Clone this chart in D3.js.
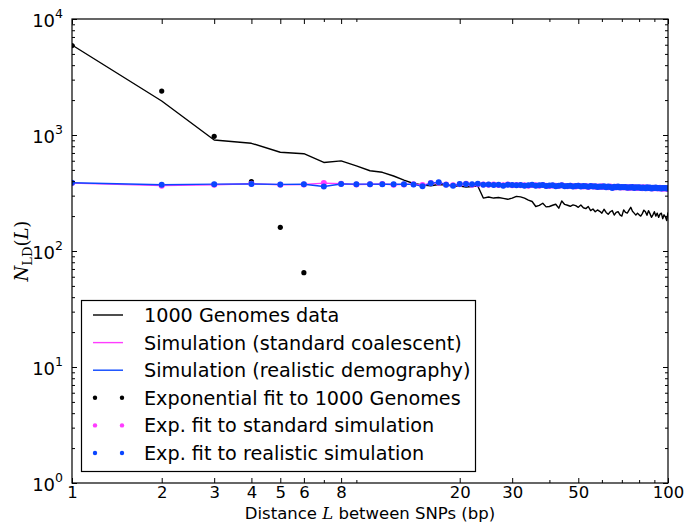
<!DOCTYPE html>
<html><head><meta charset="utf-8">
<script src="https://cdn.jsdelivr.net/npm/d3@7"></script>
<style>
html,body{margin:0;padding:0;background:#fff;}
svg{display:block;font-family:"DejaVu Sans",sans-serif;}
</style></head>
<body>
<svg id="chart" width="686" height="523"></svg>
<script>
// ---------------- data ----------------
const distances = d3.range(1, 101); // L = 1..100 bp

const genomesData = [5970,1963,906,848,710,690,580,598,541,492,
  477,443,409,382,371,365,374,371,363,363,
  356,360,363,286,292,286,289,284,279,286,
  296,293,286,275,267,242,247,258,240,242,
  248,253,234,270,252,248,243,250,246,238,
  249,236,232,242,223,230,218,226,220,212,
  229,215,207,218,223,204,215,218,205,200,
  226,215,212,225,238,220,212,204,212,205,
  200,210,225,218,203,223,210,195,205,218,
  200,212,195,208,212,190,205,197,183,215];

const simStandard = [385,366,372,380,372,374,385,380,374,376,
  378,373,375,376,370,385,388,375,368,376,
  380,373,377,375,372,374,370,369,374,368,
  371,368,369,366,370,368,365,371,366,364,
  367,365,363,369,364,361,365,362,360,366,
  361,360,364,357,361,362,358,359,356,361,
  357,358,355,360,356,353,358,354,357,352,
  356,352,355,350,357,351,354,351,349,353,
  352,348,355,350,347,352,348,350,345,351,
  348,350,346,351,347,344,349,345,348,343];

const simRealistic = [388,373,377,378,375,376,360,378,377,377,
  376,376,377,375,362,383,392,372,365,378,
  378,376,380,372,375,370,373,366,372,370,
  368,371,366,369,372,365,368,370,364,367,
  369,362,366,368,361,364,366,360,363,365,
  359,363,361,358,364,360,362,356,360,358,
  361,355,359,357,350,358,355,359,352,356,
  354,357,351,355,353,356,350,354,352,355,
  349,353,351,347,354,350,352,346,351,349,
  352,347,350,348,345,350,347,349,346,348];

// exponential fit to 1000 Genomes (visible points only)
const fitGenomesL = [1,2,3,4,5,6];
const fitGenomes = [5900,2392,975,396,160,65];
// exponential fits to the simulations (read at the same points as the lines)
const fitStandard = simStandard.slice();
const fitRealistic = simRealistic.slice();

const xTickMajor = [1,2,3,4,5,6,8,20,30,50,100];
const xTickMinor = [7,9,40,60,70,80,90];
const yTickMajor = [1,10,100,1000,10000];
const yTickMinor = [2,3,4,5,6,7,8,9,20,30,40,50,60,70,80,90,200,300,400,500,600,700,800,900,2000,3000,4000,5000,6000,7000,8000,9000];

const legendLabels = ["1000 Genomes data","Simulation (standard coalescent)","Simulation (realistic demography)",
  "Exponential fit to 1000 Genomes","Exp. fit to standard simulation","Exp. fit to realistic simulation"];

const BLACK = "#000000", MAGENTA = "#ff3cff", BLUE = "#0a46ff";

// ---------------- layout ----------------
const svg = d3.select("#chart");
const pL = 72, pR = 668, pT = 19, pB = 483;
const x = d3.scaleLog().domain([1,100]).range([pL,pR]);
const y = d3.scaleLog().domain([1,10000]).range([pB,pT]);

svg.append("defs").append("clipPath").attr("id","clip")
  .append("rect").attr("x",pL).attr("y",pT).attr("width",pR-pL).attr("height",pB-pT);

const plot = svg.append("g").attr("clip-path","url(#clip)");
const line = d3.line().x(d=>x(d[0])).y(d=>y(d[1]));

function series(vals){ return distances.map((L,i)=>[L, vals[i]]); }

plot.append("path").datum(series(genomesData)).attr("d",line)
  .attr("fill","none").attr("stroke",BLACK).attr("stroke-width",1.4).attr("stroke-linejoin","round");
plot.append("path").datum(series(simStandard)).attr("d",line)
  .attr("fill","none").attr("stroke",MAGENTA).attr("stroke-width",1.4);
plot.append("path").datum(series(simRealistic)).attr("d",line)
  .attr("fill","none").attr("stroke",BLUE).attr("stroke-width",1.4);

plot.append("g").selectAll("circle").data(fitGenomesL.map((L,i)=>[L,fitGenomes[i]])).join("circle")
  .attr("cx",d=>x(d[0])).attr("cy",d=>y(d[1])).attr("r",2.6).attr("fill",BLACK);
plot.append("g").selectAll("circle").data(series(fitStandard)).join("circle")
  .attr("cx",d=>x(d[0])).attr("cy",d=>y(d[1])).attr("r",3).attr("fill",MAGENTA);
plot.append("g").selectAll("circle").data(series(fitRealistic)).join("circle")
  .attr("cx",d=>x(d[0])).attr("cy",d=>y(d[1])).attr("r",3).attr("fill",BLUE);

// ---------------- axes ----------------
function styleAxis(g){
  g.select(".domain").remove();
  g.selectAll(".tick line").attr("stroke","#000").attr("stroke-width",1);
}
const xb = svg.append("g").attr("transform",`translate(0,${pB})`)
  .call(d3.axisBottom(x).tickValues(xTickMajor).tickSize(-5).tickPadding(3).tickFormat(d3.format("d")));
styleAxis(xb);
xb.selectAll("text").attr("font-size",16.5).attr("fill","#000").attr("font-family","DejaVu Sans");
svg.append("g").attr("transform",`translate(0,${pB})`)
  .call(d3.axisBottom(x).tickValues(xTickMinor).tickSize(-3).tickFormat("")).call(styleAxis);
svg.append("g").attr("transform",`translate(0,${pT})`)
  .call(d3.axisTop(x).tickValues(xTickMajor).tickSize(-5).tickFormat("")).call(styleAxis);
svg.append("g").attr("transform",`translate(0,${pT})`)
  .call(d3.axisTop(x).tickValues(xTickMinor).tickSize(-3).tickFormat("")).call(styleAxis);
const yl = svg.append("g").attr("transform",`translate(${pL},0)`)
  .call(d3.axisLeft(y).tickValues(yTickMajor).tickSize(-5).tickFormat(""));
styleAxis(yl);
yl.selectAll(".tick").each(function(d){
  const t = d3.select(this).append("text").attr("x",-9).attr("y",7)
    .attr("text-anchor","end").attr("fill","#000").attr("font-size",18).attr("font-family","DejaVu Sans");
  t.append("tspan").text("10");
  t.append("tspan").attr("font-size",12.5).attr("dy",-9).text(Math.round(Math.log10(d)));
});
svg.append("g").attr("transform",`translate(${pL},0)`)
  .call(d3.axisLeft(y).tickValues(yTickMinor).tickSize(-3).tickFormat("")).call(styleAxis);
svg.append("g").attr("transform",`translate(${pR},0)`)
  .call(d3.axisRight(y).tickValues(yTickMajor).tickSize(-5).tickFormat("")).call(styleAxis);
svg.append("g").attr("transform",`translate(${pR},0)`)
  .call(d3.axisRight(y).tickValues(yTickMinor).tickSize(-3).tickFormat("")).call(styleAxis);

svg.append("rect").attr("x",pL).attr("y",pT).attr("width",pR-pL).attr("height",pB-pT)
  .attr("fill","none").attr("stroke","#000").attr("stroke-width",1.2);

const xl = svg.append("text").attr("x",(pL+pR)/2).attr("y",518.5).attr("text-anchor","middle")
  .attr("font-size",16.5).attr("fill","#000");
xl.append("tspan").text("Distance ");
xl.append("tspan").attr("font-family","DejaVu Serif").attr("font-style","italic").text("L");
xl.append("tspan").text(" between SNPs (bp)");

const ylab = svg.append("text").attr("transform","translate(28,251) rotate(-90)").attr("text-anchor","middle")
  .attr("font-family","DejaVu Serif").attr("font-size",18).attr("fill","#000");
ylab.append("tspan").attr("font-style","italic").text("N");
ylab.append("tspan").attr("font-size",13).attr("dy",4).text("LD");
ylab.append("tspan").attr("dy",-4).text("(");
ylab.append("tspan").attr("font-style","italic").text("L");
ylab.append("tspan").text(")");

// ---------------- legend ----------------
const lg = svg.append("g");
lg.append("rect").attr("x",81.5).attr("y",300.5).attr("width",394).attr("height",171)
  .attr("fill","#fff").attr("stroke","#000").attr("stroke-width",1.2);
const legendColors = [BLACK,MAGENTA,BLUE,BLACK,MAGENTA,BLUE];
legendLabels.forEach((lab,i)=>{
  const cy = 315 + i*27.6;
  if(i<3){
    lg.append("line").attr("x1",93).attr("x2",123).attr("y1",cy).attr("y2",cy)
      .attr("stroke",legendColors[i]).attr("stroke-width",1.4);
  } else {
    [95,122].forEach(cx=>lg.append("circle").attr("cx",cx).attr("cy",cy).attr("r",2.2).attr("fill",legendColors[i]));
  }
  lg.append("text").attr("x",144).attr("y",cy+7).attr("font-size",19.2).attr("fill","#000").text(lab);
});
</script>
</body></html>
